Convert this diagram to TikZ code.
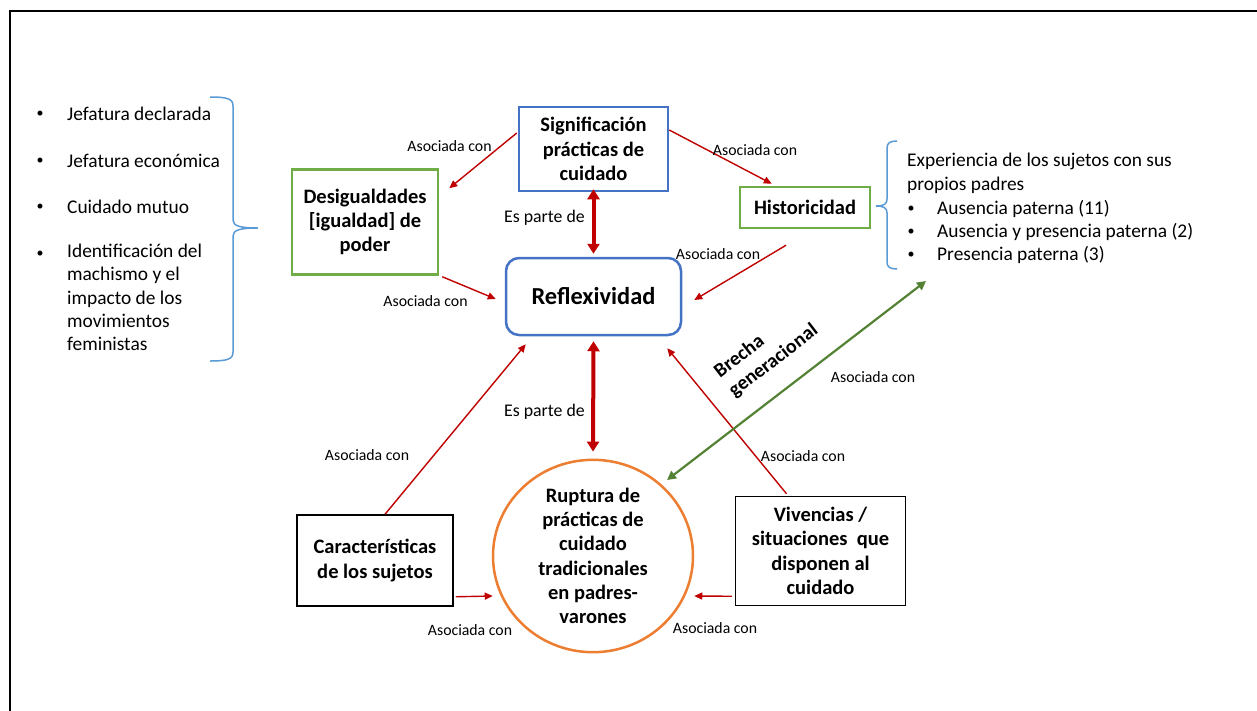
\documentclass[tikz,border=0pt]{standalone}
\usepackage{fontspec}
\setmainfont{Carlito}
\usetikzlibrary{arrows.meta,calc,shapes.geometric}
\definecolor{cred}{HTML}{C00000}
\definecolor{cblue}{HTML}{4472C4}
\definecolor{cgreen}{HTML}{70AD47}
\definecolor{corange}{HTML}{ED7D31}
\definecolor{cdgreen}{HTML}{548235}
\definecolor{cbrace}{HTML}{5B9BD5}
\begin{document}
\begin{tikzpicture}[x=1pt,y=-1pt,
  box/.style={draw, align=center, inner sep=0pt, font=\bfseries\fontsize{20.5}{24.3}\selectfont},
  lbl/.style={font=\fontsize{15.8}{18}\selectfont, inner sep=0pt},
  epd/.style={font=\fontsize{17.8}{20}\selectfont, inner sep=0pt},
  txt/.style={font=\fontsize{19.4}{23.3}\selectfont, inner sep=0pt, anchor=west, align=left},
  bul/.style={font=\fontsize{14}{16}\selectfont, inner sep=0pt},
  rarr/.style={draw=cred, line width=1.4pt, -{Triangle[length=8pt,width=7pt]}},
  dbl/.style={draw=cred, line width=4pt, {Triangle[length=10pt,width=12pt]}-{Triangle[length=10pt,width=12pt]}},
  garr/.style={draw=cdgreen, line width=2.2pt, {Triangle[length=9pt,width=9pt]}-{Triangle[length=9pt,width=9pt]}},
  brace/.style={draw=cbrace, line width=1.5pt}]
\useasboundingbox (0,0) rectangle (1257,710);
\fill[white] (0,0) rectangle (1257,710);
% frame
\draw[line width=2pt] (10,712) -- (10,11) -- (1259,11);

% left list
\foreach \yy/\t [count=\i] in {114/Jefatura declarada,161/Jefatura económica,207/Cuidado mutuo}{
  \node[bul] (lb\i) at (40,\yy) {•};
  \node[txt] (lt\i) at (67,\yy) {\t};
}
\node[bul] (lb4) at (40,254) {•};
\node[txt, anchor=north west] (lt4) at (67,244) {Identificación del\\machismo y el\\impacto de los\\movimientos\\feministas};

% left brace
\draw[brace] (210,97) .. controls (228,97) and (233,99) .. (233,106) -- (233,220)
  .. controls (233,226) and (240,228) .. (258,228)
  .. controls (240,228) and (233,230) .. (233,236) -- (233,352)
  .. controls (233,359) and (228,361) .. (210,361);

% boxes
\node[box, draw=cblue, line width=2.5pt, minimum width=149pt, minimum height=84pt] (sig) at (593.5,149) {Significación\\prácticas de\\cuidado};
\node[box, draw=cgreen, line width=2.5pt, minimum width=146pt, minimum height=105pt] (des) at (365,222) {Desigualdades\\{[igualdad]} de\\poder};
\node[box, draw=cblue, line width=2.5pt, rounded corners=13pt, minimum width=175pt, minimum height=77pt, font=\bfseries\fontsize{24.4}{28}\selectfont] (ref) at (593.5,296.5) {Reflexividad};
\node[box, draw=cgreen, line width=2.5pt, minimum width=130pt, minimum height=41pt] (his) at (805,207.5) {Historicidad};
\node[box, draw=black, line width=1.5pt, minimum width=156pt, minimum height=91pt] (car) at (375,560.5) {Características\\de los sujetos};
\node[box, draw=black, line width=1.5pt, minimum width=170pt, minimum height=109pt] (viv) at (820.5,551) {Vivencias /\\situaciones\ \ que\\disponen al\\cuidado};
\node[box, ellipse, draw=corange, line width=2.5pt, minimum width=200pt, minimum height=184pt] (rup) at (593,556) {Ruptura de\\prácticas de\\cuidado\\tradicionales\\en padres-\\varones};

% right brace and text
\draw[brace] (897,141) .. controls (890,141) and (887,143) .. (887,148) -- (887,199)
  .. controls (887,204) and (884,206) .. (876,206)
  .. controls (884,206) and (887,208) .. (887,213) -- (887,262)
  .. controls (887,267) and (890,269) .. (897,269);
\node[txt] (exp1) at (907,161) {Experiencia de los sujetos con sus};
\node[txt] (exp2) at (907,185) {propios padres};
\foreach \yy/\t [count=\i] in {209/Ausencia paterna (11),232/Ausencia y presencia paterna (2),255/Presencia paterna (3)}{
  \node[bul] (rb\i) at (911,\yy) {•};
  \node[txt] (rt\i) at (937,\yy) {\t};
}

% connector end points
\coordinate (a1s) at ($(sig.west)+(-1,-16)$);
\coordinate (a1e) at ($(des.north east)+(10,20)$);
\coordinate (a2s) at ($(sig.east)+(0,-19)$);
\coordinate (a2e) at ($(his.north west)+(33,-2)$);
\coordinate (a4s) at ($(des.south east)+(3,1)$);
\coordinate (a4e) at ($(ref.west)+(-9,2.5)$);
\coordinate (a5s) at ($(his.south)+(-19,16)$);
\coordinate (a5e) at ($(ref.east)+(12,3.5)$);
\coordinate (a7s) at ($(car.north)+(10,0)$);
\coordinate (a7e) at ($(ref.south west)+(21,8)$);
\coordinate (a8s) at ($(viv.north)+(-34,-2)$);
\coordinate (a8e) at ($(ref.south east)+(-15,12)$);
\coordinate (a9s) at ($(car.south east)+(2,-10)$);
\coordinate (a9e) at ($(rup.west)+(1,40)$);
\coordinate (a10s) at ($(viv.south west)+(-3,-10)$);
\coordinate (a10e) at ($(rup.east)+(0,40)$);
\coordinate (g1) at (926,281);
\coordinate (g2) at (667,480);

% connectors
\draw[rarr] (a1s) -- (a1e);
\draw[rarr] (a2s) -- (a2e);
\draw[dbl] ($(sig.south)+(0,-3)$) -- ($(ref.north)+(0,-3)$);
\draw[rarr] (a4s) -- (a4e);
\draw[rarr] (a5s) -- (a5e);
\draw[dbl] ($(ref.south)+(0,5)$) -- ($(rup.north)+(0,-7)$);
\draw[rarr] (a7s) -- (a7e);
\draw[rarr] (a8s) -- (a8e);
\draw[rarr] (a9s) -- (a9e);
\draw[rarr] (a10s) -- (a10e);
\draw[garr] (g1) -- (g2);

% labels
\node[lbl] (l1) at (449.5,146) {Asociada con};
\node[lbl] (l2) at (755,150) {Asociada con};
\node[epd] (l3) at (544.5,218) {Es parte de};
\node[lbl] (l4) at (425.5,301) {Asociada con};
\node[lbl] (l5) at (718,254) {Asociada con};
\node[epd] (l6) at (544.5,412) {Es parte de};
\node[lbl] (l7) at (367,455) {Asociada con};
\node[lbl] (l8) at (803,456) {Asociada con};
\node[lbl] (l9) at (873,377) {Asociada con};
\node[lbl] (l10) at (470,630) {Asociada con};
\node[lbl] (l11) at (715,628) {Asociada con};
\node[align=left, rotate=37.5, anchor=west, inner sep=0pt, font=\bfseries\fontsize{20}{24}\selectfont] (bre) at (724,384) {Brecha\\generacional};
\end{tikzpicture}
\end{document}
